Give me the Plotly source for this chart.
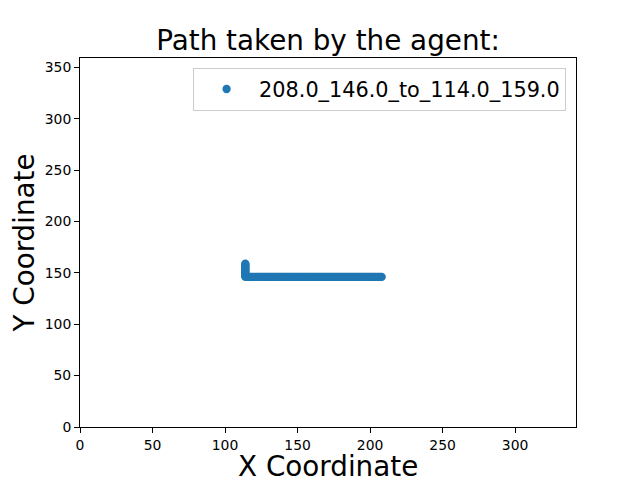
import plotly.graph_objects as go

# Path: horizontal leg from x=208 to x=114 at y=146, then vertical leg up to y=159
path_x = [float(v) for v in range(208, 113, -1)] + [114.0] * 13
path_y = [146.0] * 95 + [float(v) for v in range(147, 160)]
series_name = "208.0_146.0_to_114.0_159.0"
x_ticks = [0, 50, 100, 150, 200, 250, 300]
y_ticks = [0, 50, 100, 150, 200, 250, 300, 350]

fig = go.Figure()
fig.add_trace(go.Scatter(
    x=path_x, y=path_y, mode="markers", name=series_name,
    marker=dict(color="#1f77b4", size=8.3, line=dict(width=0)),
    showlegend=True,
))

axis_common = dict(
    showgrid=False, zeroline=False, showline=True, linecolor="black", linewidth=1,
    mirror=True, ticks="outside", ticklen=5, tickwidth=1, tickcolor="black",
    tickfont=dict(family="DejaVu Sans", size=13.9, color="black"),
    automargin=False,
)

# page body has an 8px offset, so the figure is 632x472 placed at (8, 8)
fig.update_layout(
    width=632, height=472,
    paper_bgcolor="white", plot_bgcolor="white",
    margin=dict(l=72, r=64, t=50, b=53),
    title=dict(text="Path taken by the agent:", x=0.5, xref="paper", y=1 - 32 / 472,
               yref="container", yanchor="middle",
               font=dict(family="DejaVu Sans", size=27.8, color="black"),
               automargin=False),
    xaxis=dict(range=[0, 342], tickvals=x_ticks, **axis_common),
    yaxis=dict(range=[0, 359], tickvals=y_ticks,
               title=dict(text="Y Coordinate", font=dict(family="DejaVu Sans", size=27.8, color="black"), standoff=6),
               **axis_common),
    legend=dict(x=0.98, y=0.973, xanchor="right", yanchor="top",
                bordercolor="#cccccc", borderwidth=1, bgcolor="rgba(255,255,255,0.8)",
                font=dict(family="DejaVu Sans", size=20.8, color="black"),
                itemsizing="trace", itemwidth=55),
    showlegend=True,
)

fig.add_annotation(text="X Coordinate", xref="paper", yref="paper", x=0.5, y=0,
                   xanchor="center", yanchor="top", yshift=-21, showarrow=False,
                   font=dict(family="DejaVu Sans", size=27.8, color="black"))

fig.write_html("out.html")
